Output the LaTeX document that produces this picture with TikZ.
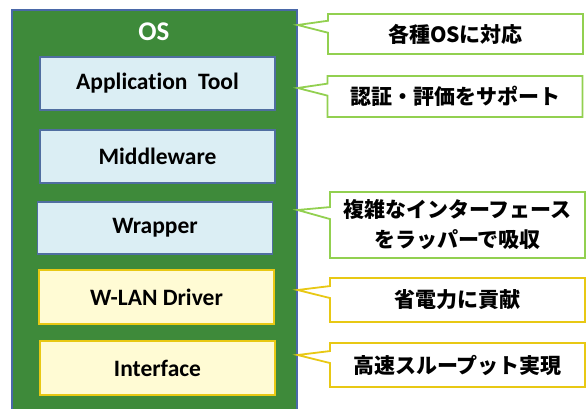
\documentclass[tikz,border=0pt]{standalone}
\usepackage{fontspec}
\setmainfont{Carlito}[Ligatures=NoCommon]
\newfontfamily\jpfont{Noto Sans CJK JP}
\usetikzlibrary{shapes.callouts}
\definecolor{osgreen}{RGB}{62,138,58}
\definecolor{osedge}{RGB}{74,104,168}
\definecolor{layblue}{RGB}{219,238,244}
\definecolor{layedge}{RGB}{80,110,160}
\definecolor{layyellow}{RGB}{255,251,212}
\definecolor{yedge}{RGB}{232,200,20}
\definecolor{gedge}{RGB}{146,208,80}
\tikzset{
    layer/.style={draw=layedge,line width=1.5pt,fill=layblue,minimum width=235pt,minimum height=53pt,inner sep=0pt,font=\fontsize{23.5}{28}\selectfont\bfseries},
    hwlayer/.style={layer,draw=yedge,fill=layyellow},
    note/.style={rectangle callout,draw=gedge,line width=1.8pt,fill=white,minimum width=255pt,inner sep=0pt,callout pointer width=12pt,font=\jpfont\fontsize{21}{30}\selectfont\bfseries,align=center},
    hwnote/.style={note,draw=yedge}
}
\begin{document}
\begin{tikzpicture}[x=1pt,y=-1pt]
    \useasboundingbox (0,0) rectangle (587,408);
    \node [draw=osedge,line width=1.2pt,fill=osgreen,minimum width=285pt,minimum height=402pt,inner sep=0pt] (os) at (154.5,211) {};
    \node [text=white,font=\fontsize{27}{30}\selectfont\bfseries] (ostitle) at (154,32) {OS};
    \node [layer]   (app)  at (157.5,83.5) {Application\ \ Tool};
    \node [layer]   (mid)  at (157.5,156.5) {Middleware};
    \node [layer,minimum height=52pt]   (wrap) at (155,228) {Wrapper};
    \node [hwlayer,minimum height=54pt] (wlan) at (156.5,297) {W-LAN Driver};
    \node [hwlayer,minimum height=54pt] (intf) at (157.5,368) {Interface};
    \coordinate (p1) at (os.east |- 0,25);
    \coordinate (p2) at (os.east |- 0,88);
    \coordinate (p3) at (os.east |- 0,210);
    \coordinate (p4) at (os.east |- 0,290);
    \coordinate (p5) at (os.east |- 0,355);
    \node [note,minimum height=40pt,callout absolute pointer={(p1)}] (c1) at (455.5,34) {各種OSに対応};
    \node [note,minimum height=41pt,callout absolute pointer={(p2)}] (c2) at (455,96.5) {認証・評価をサポート};
    \node [note,minimum height=66pt,callout absolute pointer={(p3)}] (c3) at (457.5,225) {複雑なインターフェース\\をラッパーで吸収};
    \node [hwnote,minimum height=44pt,callout absolute pointer={(p4)}] (c4) at (457.5,300) {省電力に貢献};
    \node [hwnote,minimum height=44pt,callout absolute pointer={(p5)}] (c5) at (457.5,365) {高速スループット実現};
\end{tikzpicture}
\end{document}
